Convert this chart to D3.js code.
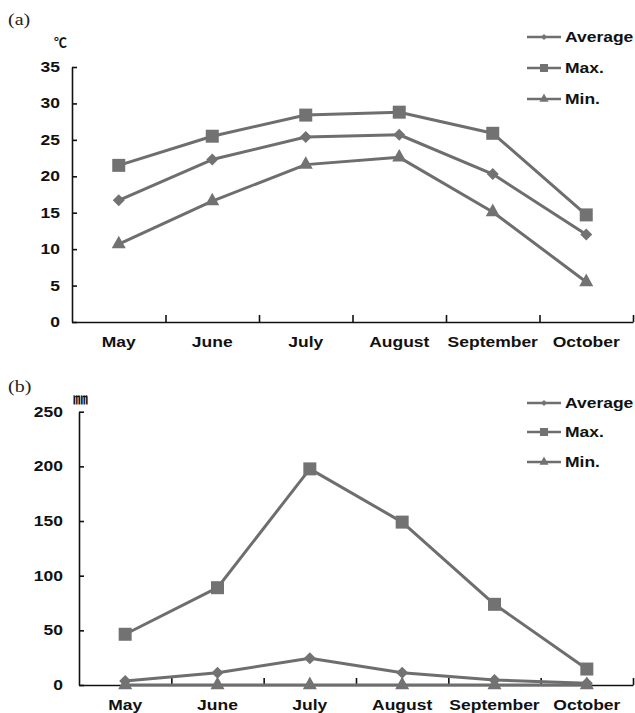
<!DOCTYPE html>
<html>
<head>
<meta charset="utf-8">
<script src="https://cdn.jsdelivr.net/npm/d3@7"></script>
<style>
  html, body { margin: 0; padding: 0; background: #fff; }
  svg { display: block; }
</style>
</head>
<body>
<svg id="chart" width="635" height="713"></svg>
<script>
// ---- data ----
const months = ["May", "June", "July", "August", "September", "October"];
const seriesNames = ["Average", "Max.", "Min."];
const seriesShapes = ["diamond", "square", "triangle"];

const tempAvg = [16.7, 22.3, 25.4, 25.7, 20.3, 12.0];
const tempMax = [21.5, 25.5, 28.4, 28.8, 25.9, 14.7];
const tempMin = [10.7, 16.6, 21.6, 22.6, 15.1, 5.5];
const tempTicks = [0, 5, 10, 15, 20, 25, 30, 35];

const precAvg = [3.7, 11.3, 24.4, 11.3, 4.6, 1.5];
const precMax = [46.4, 89, 197.7, 149, 73.8, 14.6];
const precMin = [0, 0, 0, 0, 0, 0];
const precTicks = [0, 50, 100, 150, 200, 250];

// ---- drawing ----
const svg = d3.select("#chart");
const LINE = "#6e6e6e";
const MARK = "#727272";
const SX = 1.25; // horizontal stretch of the original text
const FONT = "'Liberation Sans', Arial, sans-serif";

function shapePath(shape, s) {
  if (shape === "square") return `M${-s/2},${-s/2}H${s/2}V${s/2}H${-s/2}Z`;
  if (shape === "diamond") return `M0,${-s/2}L${s/2},0L0,${s/2}L${-s/2},0Z`;
  // triangle, centroid at origin
  const h = s * 0.9;
  return `M0,${-h*2/3}L${s/2},${h/3}L${-s/2},${h/3}Z`;
}

function stretchedText(g, x, y, str, opts) {
  return g.append("text")
    .attr("transform", `translate(${x},${y}) scale(${SX},1)`)
    .attr("font-family", opts.family || FONT)
    .attr("font-weight", opts.weight || "bold")
    .attr("font-size", opts.size || 14)
    .attr("text-anchor", opts.anchor || "start")
    .attr("fill", opts.fill || "#111")
    .text(str);
}

function panel(cfg) {
  const g = svg.append("g");
  const x = d3.scaleBand().domain(months).range([cfg.left, cfg.right]).padding(0);
  const xb = d3.scaleLinear().domain([0, months.length]).range([cfg.left, cfg.right]);
  const y = d3.scaleLinear().domain([0, cfg.ticks[cfg.ticks.length - 1]]).range([cfg.bottom, cfg.top]);
  const cx = m => x(m) + x.bandwidth() / 2;

  // y axis
  const ya = g.append("g").attr("transform", `translate(${cfg.left},0)`)
    .call(d3.axisLeft(y).tickValues(cfg.ticks).tickSizeInner(-5).tickSizeOuter(0).tickFormat(""));
  ya.selectAll("path, line").attr("stroke", "#111").attr("stroke-width", 1.6);
  cfg.ticks.forEach(t => {
    stretchedText(g, cfg.left - cfg.labelGap, y(t) + 5, String(t), {anchor: "end"});
  });

  // x axis (ticks at category boundaries)
  const xa = g.append("g").attr("transform", `translate(0,${cfg.bottom})`)
    .call(d3.axisBottom(xb).tickValues(d3.range(1, months.length + 1)).tickSizeInner(-7).tickSizeOuter(0).tickFormat(""));
  xa.selectAll("path, line").attr("stroke", "#111").attr("stroke-width", 1.6);
  months.forEach(m => {
    stretchedText(g, cx(m), cfg.bottom + 25, m, {anchor: "middle"});
  });

  // series
  const line = d3.line().x((d, i) => cx(months[i])).y(d => y(d));
  cfg.series.forEach((vals, si) => {
    g.append("path").datum(vals)
      .attr("d", line).attr("fill", "none")
      .attr("stroke", LINE).attr("stroke-width", 3).attr("stroke-linejoin", "round");
  });
  cfg.series.forEach((vals, si) => {
    const sz = seriesShapes[si] === "square" ? 13 : (seriesShapes[si] === "diamond" ? 12 : 14);
    g.selectAll(null).data(vals).enter().append("path")
      .attr("transform", (d, i) => `translate(${cx(months[i])},${y(d)})`)
      .attr("d", shapePath(seriesShapes[si], sz))
      .attr("fill", MARK);
  });

  // legend
  seriesNames.forEach((name, i) => {
    const ly = cfg.legendY[i];
    g.append("line").attr("x1", 527).attr("x2", 561).attr("y1", ly).attr("y2", ly)
      .attr("stroke", LINE).attr("stroke-width", 2.5);
    const ls = seriesShapes[i] === "square" ? 8 : (seriesShapes[i] === "diamond" ? 6 : 9);
    g.append("path").attr("transform", `translate(544,${ly})`)
      .attr("d", shapePath(seriesShapes[i], ls)).attr("fill", MARK);
    stretchedText(g, 565, ly + 5, name, {});
  });

  // panel label and unit
  stretchedText(g, 8, cfg.labelY, cfg.label, {family: "'Liberation Serif', 'Times New Roman', serif", weight: "normal", size: 16, fill: "#222"});
  g.append("text").attr("x", cfg.unitX).attr("y", cfg.unitY)
    .attr("font-family", "'Noto Sans CJK SC', sans-serif").attr("font-weight", "bold")
    .attr("font-size", cfg.unitSize).attr("fill", "#111").text(cfg.unit);
}

panel({
  left: 72, right: 633, top: 67, bottom: 322, labelGap: 12,
  ticks: tempTicks, series: [tempAvg, tempMax, tempMin],
  legendY: [37, 68, 99], label: "(a)", labelY: 25,
  unit: "℃", unitX: 54, unitY: 47, unitSize: 13
});

panel({
  left: 79, right: 633, top: 411.7, bottom: 685, labelGap: 16,
  ticks: precTicks, series: [precAvg, precMax, precMin],
  legendY: [403, 432, 462], label: "(b)", labelY: 392,
  unit: "㎜", unitX: 73, unitY: 404, unitSize: 15
});
</script>
</body>
</html>
